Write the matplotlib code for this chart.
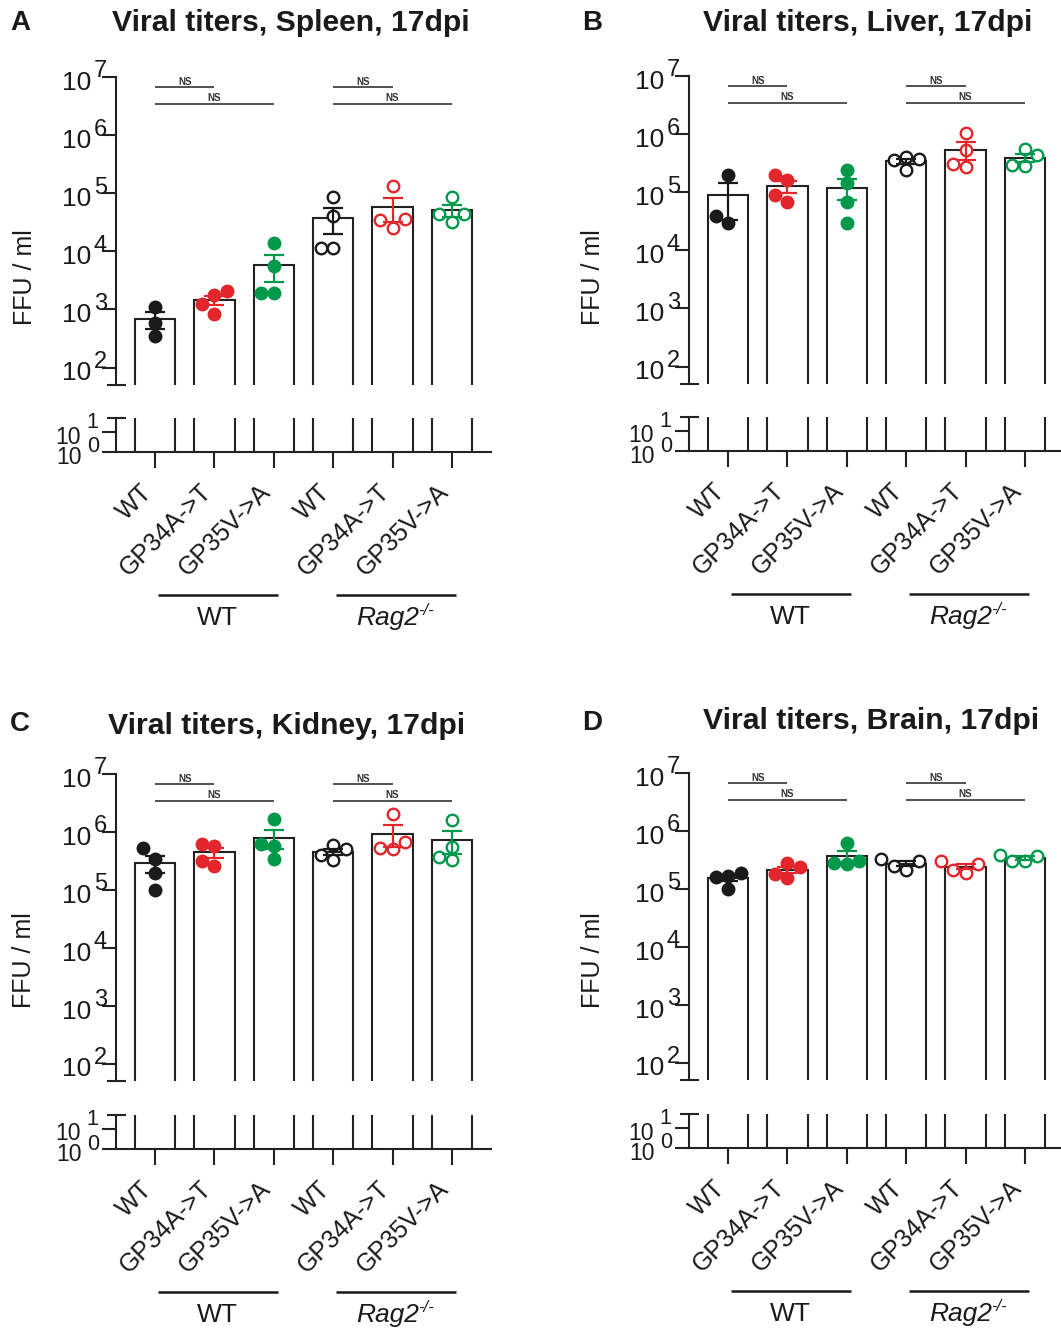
"""Viral titers at 17 dpi in four organs, Prism-style broken log axis."""

import matplotlib
matplotlib.use("Agg")
import matplotlib.pyplot as plt
import numpy as np
from matplotlib.ticker import NullLocator
from matplotlib.transforms import blended_transform_factory

plt.rcParams["font.family"] = ["Liberation Sans", "DejaVu Sans"]

# ---- data (FFU / ml, one list per group) ----
categories = ["WT", "GP34A->T", "GP35V->A", "WT", "GP34A->T", "GP35V->A"]
group_names = ["WT", "Rag2"]
group_colors = ["#1a1a1a", "#e3262b", "#00994c"]

spleen = [
    [1100, 590, 350],
    [2040, 1740, 1260, 850],
    [13800, 5500, 1900, 1900],
    [87000, 41000, 11500, 11500],
    [134000, 36000, 25000, 35000],
    [87000, 44000, 31500, 44000],
]
liver = [
    [200000, 39000, 29000],
    [195000, 162000, 68000, 89000],
    [240000, 142000, 68000, 29000],
    [400000, 380000, 355000, 240000],
    [1050000, 525000, 275000, 312000],
    [565000, 435000, 282000, 292000],
]
kidney = [
    [525000, 340000, 195000, 100000],
    [630000, 575000, 257000, 310000],
    [1660000, 620000, 575000, 340000],
    [600000, 500000, 400000, 330000],
    [2050000, 660000, 500000, 525000],
    [1630000, 550000, 325000, 375000],
]
brain = [
    [190000, 170000, 163000, 100000],
    [280000, 240000, 183000, 151000],
    [620000, 300000, 265000, 280000],
    [330000, 300000, 245000, 215000],
    [300000, 265000, 215000, 190000],
    [390000, 375000, 300000, 300000],
]

panels = [
    ("A", "Viral titers, Spleen, 17dpi", spleen),
    ("B", "Viral titers, Liver, 17dpi", liver),
    ("C", "Viral titers, Kidney, 17dpi", kidney),
    ("D", "Viral titers, Brain, 17dpi", brain),
]

# ---- layout in pixels ----
W, H, DPI = 1061, 1328, 100
# spine x, top, upper bottom, lower top, lower bottom
boxes = [
    (116, 77, 385, 418, 452),
    (689, 76, 384, 417, 451),
    (116, 774, 1081, 1115, 1149),
    (689, 773, 1080, 1114, 1148),
]
title_pos = [(291, 23), (868, 23), (287, 726), (871, 721)]
letter_pos = [(10, 23), (582, 23), (10, 724), (582, 723)]
ylabel_pos = [(25, 277), (593, 277), (24, 960), (593, 960)]

AX_W = 375
XLIM = (-0.66, 5.66)
PX_PER_UNIT = AX_W / (XLIM[1] - XLIM[0])
PX_PER_DECADE = 58.2
BAR_W = 0.675
LOG_SPLIT = 1.7
EDGE = "#222222"
TXT = "#1a1a1a"
LW = 1.5


def px_rect(x0, y0, x1, y1):
    return [x0 / W, 1 - y1 / H, (x1 - x0) / W, (y1 - y0) / H]


def swarm(values, diam=12.5):
    """Horizontal offsets (data units) so markers do not overlap."""
    ly = np.log10(values) * PX_PER_DECADE
    order = np.argsort(ly)
    step = diam / PX_PER_UNIT
    placed = []
    offs = np.zeros(len(values))
    for i in order:
        for k in [0, -1, 1, -2, 2, -3, 3]:
            dx = k * step
            ok = all(np.hypot((dx - px) * PX_PER_UNIT, ly[i] - py) >= diam
                     for px, py in placed)
            if ok:
                break
        offs[i] = dx
        placed.append((dx, ly[i]))
    return offs


def style_axis(ax):
    ax.set_yscale("log")
    ax.set_xlim(*XLIM)
    ax.patch.set_alpha(0)
    for s in ("top", "right"):
        ax.spines[s].set_visible(False)
    for s in ("left", "bottom"):
        ax.spines[s].set_linewidth(LW)
        ax.spines[s].set_color(EDGE)
    ax.yaxis.set_minor_locator(NullLocator())
    ax.tick_params(axis="y", which="major", direction="out", length=10,
                   width=LW, color=EDGE, labelleft=False)


def exp_label(ax, value, exp, size_base, size_exp, dx_base, dx_exp, dy_base, dy_exp):
    ax.annotate("10", xy=(0, value), xycoords=("axes fraction", "data"),
                xytext=(dx_base, dy_base), textcoords="offset points",
                ha="right", va="center", fontsize=size_base, color=TXT)
    ax.annotate(str(exp), xy=(0, value), xycoords=("axes fraction", "data"),
                xytext=(dx_exp, dy_exp), textcoords="offset points",
                ha="left", va="center", fontsize=size_exp, color=TXT)


fig = plt.figure(figsize=(W / DPI, H / DPI), dpi=DPI)

x = np.arange(len(categories))

for p, (letter, title, data) in enumerate(panels):
    sx, top, ub, lt, lb = boxes[p]
    ax_up = fig.add_axes(px_rect(sx, top, sx + AX_W, ub))
    ax_lo = fig.add_axes(px_rect(sx, lt, sx + AX_W, lb))
    for ax in (ax_up, ax_lo):
        style_axis(ax)
    ax_up.set_ylim(10 ** LOG_SPLIT, 1e7)
    ax_lo.set_ylim(1, 10 ** LOG_SPLIT)
    ax_up.spines["bottom"].set_visible(False)
    ax_up.set_xticks([])
    ax_up.set_yticks([10.0 ** k for k in range(2, 8)])
    ax_lo.set_yticks([1, 10])
    ax_lo.set_xticks(x)
    ax_lo.set_xticklabels([])
    ax_lo.tick_params(axis="x", direction="out", length=11.5, width=LW, color=EDGE)

    # break caps
    cap = 9.5 / AX_W
    ax_up.plot([-cap, cap], [0, 0], transform=ax_up.transAxes, clip_on=False,
               color=EDGE, lw=LW, solid_capstyle="butt")
    ax_lo.plot([-cap, cap], [1, 1], transform=ax_lo.transAxes, clip_on=False,
               color=EDGE, lw=LW, solid_capstyle="butt")

    means = np.array([np.mean(v) for v in data])
    sems = np.array([np.std(v, ddof=1) / np.sqrt(len(v)) for v in data])

    for ax in (ax_up, ax_lo):
        ax.bar(x, means - 0.1, bottom=0.1, width=BAR_W, facecolor="white",
               edgecolor=EDGE, linewidth=LW, zorder=2)

    for i, vals in enumerate(data):
        col = group_colors[i % 3]
        face = col if i < 3 else "white"
        offs = swarm(vals)
        ax_up.plot(x[i] + offs, vals, "o", ms=8.3, mfc=face, mec=col,
                   mew=1.7, zorder=5, clip_on=False)
        ax_up.errorbar(x[i], means[i], yerr=sems[i], fmt="none", ecolor=col,
                       elinewidth=1.6, capsize=7, capthick=1.6, zorder=6)

    # NS comparisons
    for g in (0, 3):
        for span, ly in ((1, 6.82), (2, 6.54)):
            ax_up.plot([x[g], x[g + span]], [10 ** ly] * 2, color="#333333",
                       lw=1.2, solid_capstyle="butt")
            ax_up.annotate("NS", xy=((x[g] + x[g + span]) / 2, 10 ** ly),
                           xytext=(0, 0.6), textcoords="offset points",
                           ha="center", va="bottom", fontsize=7,
                           fontweight="bold", color="#333333")

    # y tick labels
    for k in range(2, 8):
        exp_label(ax_up, 10.0 ** k, k, 19, 17, -17.5, -16, -4.2, 4.0)
    exp_label(ax_lo, 10.0, 1, 16.5, 15.5, -25.5, -21.5, -3.6, 7.0)
    exp_label(ax_lo, 1.0, 0, 16.5, 15.5, -24.5, -21.0, -3.8, 3.6)

    # category labels
    for i, lab in enumerate(categories):
        ax_lo.annotate(lab, xy=(x[i], 0), xycoords=("data", "axes fraction"),
                       xytext=(-5, -26), textcoords="offset points",
                       rotation=45, rotation_mode="anchor", ha="right",
                       va="center", fontsize=18, color=TXT)

    # group lines and labels
    tr = blended_transform_factory(ax_lo.transData, fig.transFigure)
    line_y = 1 - (lb + 143) / H
    text_y = 1 - (lb + 166) / H
    for gi, g in enumerate((0, 3)):
        ax_lo.plot([x[g] + 0.04, x[g + 2] + 0.07], [line_y] * 2, transform=tr,
                   clip_on=False, color=TXT, lw=1.8, solid_capstyle="butt")
        cx = (x[g] + x[g + 2]) / 2 + 0.05
        if group_names[gi] == "WT":
            ax_lo.text(cx, text_y, "WT", transform=tr, ha="center", va="center",
                       fontsize=19, color=TXT)
        else:
            t = ax_lo.text(cx - 0.14, text_y, "Rag2", transform=tr, ha="center",
                           va="center", fontsize=19, style="italic", color=TXT)
            ax_lo.annotate("-/-", xy=(1.0, 0.8), xycoords=t, ha="left",
                           va="center", fontsize=12, style="italic", color=TXT)

    # titles, panel letters, y label
    tx, ty = title_pos[p]
    fig.text(tx / W, 1 - ty / H, title, ha="center", va="center",
             fontsize=21.7, fontweight="bold", color=TXT)
    lx, ly_ = letter_pos[p]
    fig.text(lx / W, 1 - ly_ / H, letter, ha="left", va="center",
             fontsize=20, fontweight="bold", color=TXT)
    yx, yy = ylabel_pos[p]
    fig.text(yx / W, 1 - yy / H, "FFU / ml", ha="center", va="center",
             rotation=90, fontsize=18, color=TXT)

fig.savefig("out.png", dpi=DPI)
